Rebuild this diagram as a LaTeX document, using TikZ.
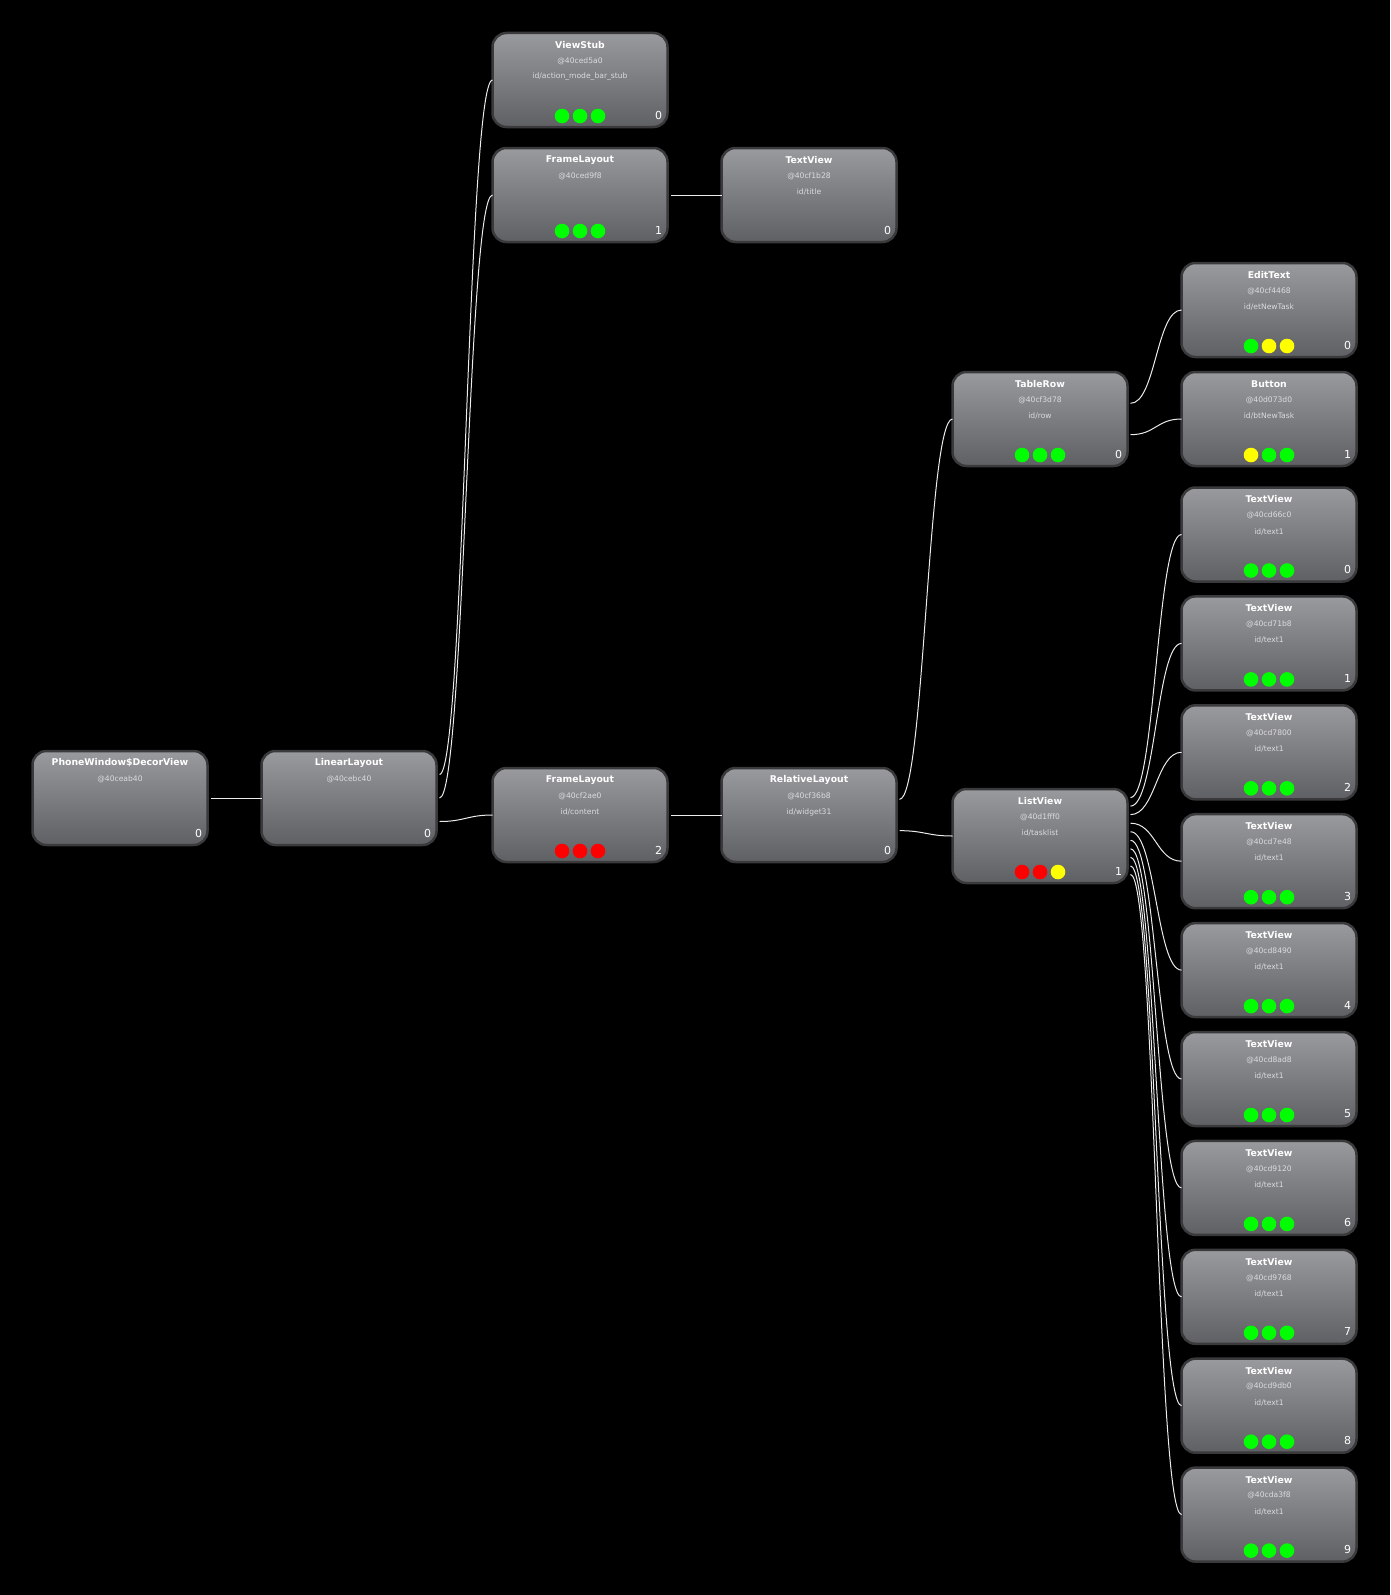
\documentclass[tikz,border=0pt]{standalone}
\usepackage{fontspec}
\setmainfont{DejaVu Sans}
\usetikzlibrary{calc}
\definecolor{boxtop}{RGB}{153,154,157}
\definecolor{boxbot}{RGB}{94,96,99}
\definecolor{boxline}{RGB}{58,58,60}
\definecolor{subtxt}{RGB}{220,220,222}
\definecolor{dotg}{RGB}{0,255,0}
\definecolor{dotr}{RGB}{255,0,0}
\definecolor{doty}{RGB}{255,255,0}
\definecolor{wire}{RGB}{235,235,235}
\tikzset{
  viewbox/.style={draw=boxline, line width=2.5pt, rounded corners=14pt,
    top color=boxtop, bottom color=boxbot, minimum width=175pt, minimum height=94pt,
    inner sep=0pt, outer sep=0pt},
  ttl/.style={text=white, font=\fontsize{9.3}{11}\selectfont\bfseries, inner sep=0pt},
  sub/.style={text=subtxt, font=\fontsize{7.6}{9}\selectfont, inner sep=0pt},
  idx/.style={text=white, font=\fontsize{11}{12}\selectfont, inner sep=0pt},
  conn/.style={draw=wire, line width=1pt},
}
\newcommand\hvnode[8]{%
  \node[viewbox] (#1) at (#2+88,#3+48) {};
  \node[ttl] (#1-t) at ($(#1.north)+(0,12)$) {#4};
  \node[sub] (#1-h) at ($(#1.north)+(0,28)$) {#5};
  \if\relax\detokenize{#6}\relax\else
    \node[sub] (#1-i) at ($(#1.north)+(0,44)$) {#6};
  \fi
  \if\relax\detokenize{#7}\relax\else
    \foreach \cc [count=\ii] in {#7} {\fill[\cc] ($(#1.north)+(\ii*18-36,83)$) circle (7.3pt);}
  \fi
  \node[idx] (#1-n) at ($(#1.south east)+(-9,-12)$) {#8};
}
\newcommand\hvconn[4]{%
  \pgfmathsetmacro\frc{#2/(#3+1)}%
  \coordinate (#1-o#4) at ($($(#1.north east)!\frc!(#1.south east)$)+(3,0)$);
  \draw[conn] (#1-o#4) .. controls ($(#1-o#4)+(25,0)$) and ($(#4.west)+(-25,0)$) .. (#4.west);
}
\begin{document}
\begin{tikzpicture}[x=1pt,y=-1pt]
\fill[black] (0,0) rectangle (1390,1595);
\useasboundingbox (0,0) rectangle (1390,1595);

\hvnode{pw}{32}{750}{PhoneWindow\$DecorView}{@40ceab40}{}{}{0}
\hvnode{ll}{261}{750}{LinearLayout}{@40cebc40}{}{}{0}
\hvnode{vs}{492}{32}{ViewStub}{@40ced5a0}{id/action\_mode\_bar\_stub}{dotg,dotg,dotg}{0}
\hvnode{fla}{492}{147}{FrameLayout}{@40ced9f8}{}{dotg,dotg,dotg}{1}
\hvnode{tvt}{721}{147}{TextView}{@40cf1b28}{id/title}{}{0}
\hvnode{flc}{492}{767}{FrameLayout}{@40cf2ae0}{id/content}{dotr,dotr,dotr}{2}
\hvnode{rl}{721}{767}{RelativeLayout}{@40cf36b8}{id/widget31}{}{0}
\hvnode{tr}{952}{371}{TableRow}{@40cf3d78}{id/row}{dotg,dotg,dotg}{0}
\hvnode{lv}{952}{788}{ListView}{@40d1fff0}{id/tasklist}{dotr,dotr,doty}{1}
\hvnode{et}{1181}{262}{EditText}{@40cf4468}{id/etNewTask}{dotg,doty,doty}{0}
\hvnode{bt}{1181}{371}{Button}{@40d073d0}{id/btNewTask}{doty,dotg,dotg}{1}
\hvnode{tv0}{1181}{486.5}{TextView}{@40cd66c0}{id/text1}{dotg,dotg,dotg}{0}
\hvnode{tv1}{1181}{595.4}{TextView}{@40cd71b8}{id/text1}{dotg,dotg,dotg}{1}
\hvnode{tv2}{1181}{704.3}{TextView}{@40cd7800}{id/text1}{dotg,dotg,dotg}{2}
\hvnode{tv3}{1181}{813.2}{TextView}{@40cd7e48}{id/text1}{dotg,dotg,dotg}{3}
\hvnode{tv4}{1181}{922.1}{TextView}{@40cd8490}{id/text1}{dotg,dotg,dotg}{4}
\hvnode{tv5}{1181}{1031}{TextView}{@40cd8ad8}{id/text1}{dotg,dotg,dotg}{5}
\hvnode{tv6}{1181}{1139.9}{TextView}{@40cd9120}{id/text1}{dotg,dotg,dotg}{6}
\hvnode{tv7}{1181}{1248.8}{TextView}{@40cd9768}{id/text1}{dotg,dotg,dotg}{7}
\hvnode{tv8}{1181}{1357.7}{TextView}{@40cd9db0}{id/text1}{dotg,dotg,dotg}{8}
\hvnode{tv9}{1181}{1466.6}{TextView}{@40cda3f8}{id/text1}{dotg,dotg,dotg}{9}

\hvconn{pw}{1}{1}{ll}
\hvconn{ll}{1}{3}{vs}
\hvconn{ll}{2}{3}{fla}
\hvconn{ll}{3}{3}{flc}
\hvconn{fla}{1}{1}{tvt}
\hvconn{flc}{1}{1}{rl}
\hvconn{rl}{1}{2}{tr}
\hvconn{rl}{2}{2}{lv}
\hvconn{tr}{1}{2}{et}
\hvconn{tr}{2}{2}{bt}
\foreach \k in {0,...,9} {
  \pgfmathtruncatemacro\kk{\k+1}
  \hvconn{lv}{\kk}{10}{tv\k}
}
\end{tikzpicture}
\end{document}
